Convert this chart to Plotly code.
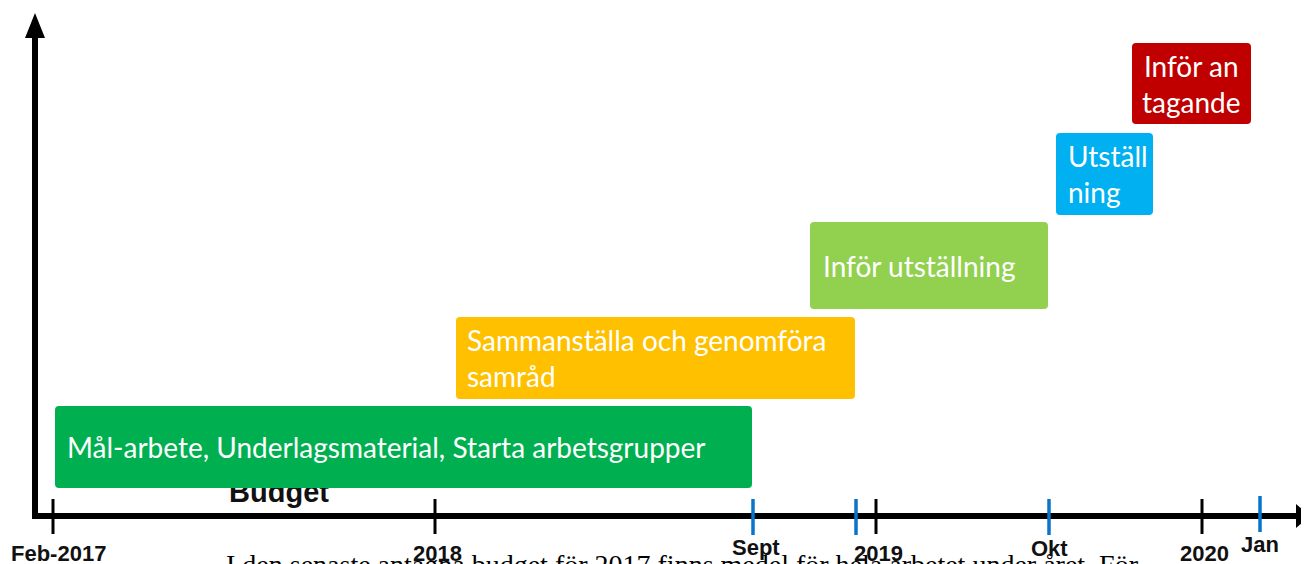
import plotly.graph_objects as go

# ---------------- data (timeline positions) ----------------
task_labels = [
    "Mål-arbete, Underlagsmaterial, Starta arbetsgrupper",
    "Sammanställa och genomföra<br>samråd",
    "Inför utställning",
    "Utställ<br>ning",
    "Inför an<br>tagande",
]
task_start = [55, 456, 810, 1056, 1132]
task_end = [752, 855, 1048, 1153, 1251]
task_top = [406, 317, 222, 133, 43]
task_bottom = [488, 399, 309, 215, 124]
task_colors = ["#00B050", "#FFC000", "#92D050", "#00B0F0", "#C00000"]
task_text_x = [65, 465, 821, 1066, 1191]
task_text_align = ["left", "left", "left", "left", "center"]

year_ticks = [53, 435, 876, 1202]
year_labels = ["Feb-2017", "2018", "2019", "2020"]
month_ticks = [753, 856, 1049, 1260]
month_labels = ["Sept", "", "Okt", "Jan"]
month_label_y = [547, 547, 548, 544]

W, H = 1309, 564
OFF = 8  # page body margin compensation
AXIS_Y = 516
AXIS_X = 35

fig = go.Figure()

# "Budget" text partly hidden behind the green bar (drawn as a trace so shapes cover it)
fig.add_trace(go.Scatter(
    x=[279], y=[495], mode="text", text=["<b>Budget</b>"],
    textfont=dict(family="Liberation Sans, Arial", size=29, color="#111111"),
    textposition="middle center", hoverinfo="skip", showlegend=False,
))

shapes = []


def rounded_rect(x0, x1, y0, y1, r=4):
    return (f"M {x0+r} {y0} L {x1-r} {y0} Q {x1} {y0} {x1} {y0+r} "
            f"L {x1} {y1-r} Q {x1} {y1} {x1-r} {y1} L {x0+r} {y1} "
            f"Q {x0} {y1} {x0} {y1-r} L {x0} {y0+r} Q {x0} {y0} {x0+r} {y0} Z")


for s, e, t, b, c in zip(task_start, task_end, task_top, task_bottom, task_colors):
    shapes.append(dict(type="path", path=rounded_rect(s, e, t, b), xref="x", yref="y",
                       fillcolor=c, line=dict(width=0), layer="above"))

# axes with arrows
shapes.append(dict(type="line", x0=AXIS_X - 3, x1=1297, y0=AXIS_Y, y1=AXIS_Y,
                   line=dict(color="black", width=6), layer="above"))
shapes.append(dict(type="path", path=f"M 1296 504 L 1310 {AXIS_Y} L 1296 528 Z",
                   fillcolor="black", line=dict(width=0), layer="above"))
shapes.append(dict(type="line", x0=AXIS_X, x1=AXIS_X, y0=AXIS_Y + 3, y1=36,
                   line=dict(color="black", width=6), layer="above"))
shapes.append(dict(type="path", path=f"M {AXIS_X-10} 38 L {AXIS_X} 13 L {AXIS_X+10} 38 Z",
                   fillcolor="black", line=dict(width=0), layer="above"))

for xt in year_ticks:
    shapes.append(dict(type="line", x0=xt, x1=xt, y0=499, y1=534,
                       line=dict(color="black", width=3), layer="above"))
for xt in month_ticks:
    y0 = 496 if xt == month_ticks[-1] else 499
    shapes.append(dict(type="line", x0=xt, x1=xt, y0=y0, y1=y0 + 36,
                       line=dict(color="#0A74C9", width=3.5), layer="above"))

annotations = []
for lbl, tx, al, t, b in zip(task_labels, task_text_x, task_text_align, task_top, task_bottom):
    annotations.append(dict(
        x=tx, y=(t + b) / 2, text=lbl, showarrow=False, xanchor=al, yanchor="middle",
        align=al, font=dict(family="Lato", size=28, color="white"),
    ))

# bottom serif text (cut by the bottom edge)
annotations.append(dict(
    x=224, y=547, xanchor="left", yanchor="top", showarrow=False,
    text="I den senaste antagna budget för 2017 finns medel för hela arbetet under året. För",
    font=dict(family="Liberation Serif, Times New Roman", size=28, color="black"),
))

for xt, lbl in zip(year_ticks, year_labels):
    annotations.append(dict(
        x=xt + (5 if lbl == "Feb-2017" else 2), y=553, text=f"<b>{lbl}</b>", showarrow=False,
        xanchor="center", yanchor="middle",
        font=dict(family="Liberation Sans, Arial", size=22, color="#111111"),
    ))
for xt, lbl, yl in zip(month_ticks, month_labels, month_label_y):
    if lbl:
        annotations.append(dict(
            x=xt + 3 if lbl == "Sept" else xt, y=yl, text=f"<b>{lbl}</b>", showarrow=False,
            xanchor="center", yanchor="middle",
            font=dict(family="Liberation Sans, Arial", size=22, color="#111111"),
        ))

fig.update_layout(
    width=W - OFF, height=H - OFF, margin=dict(l=0, r=0, t=0, b=0),
    paper_bgcolor="white", plot_bgcolor="white", showlegend=False,
    xaxis=dict(range=[OFF, W], visible=False, fixedrange=True),
    yaxis=dict(range=[H, OFF], visible=False, fixedrange=True),
    shapes=shapes, annotations=annotations,
)

fig.write_html("out.html")
